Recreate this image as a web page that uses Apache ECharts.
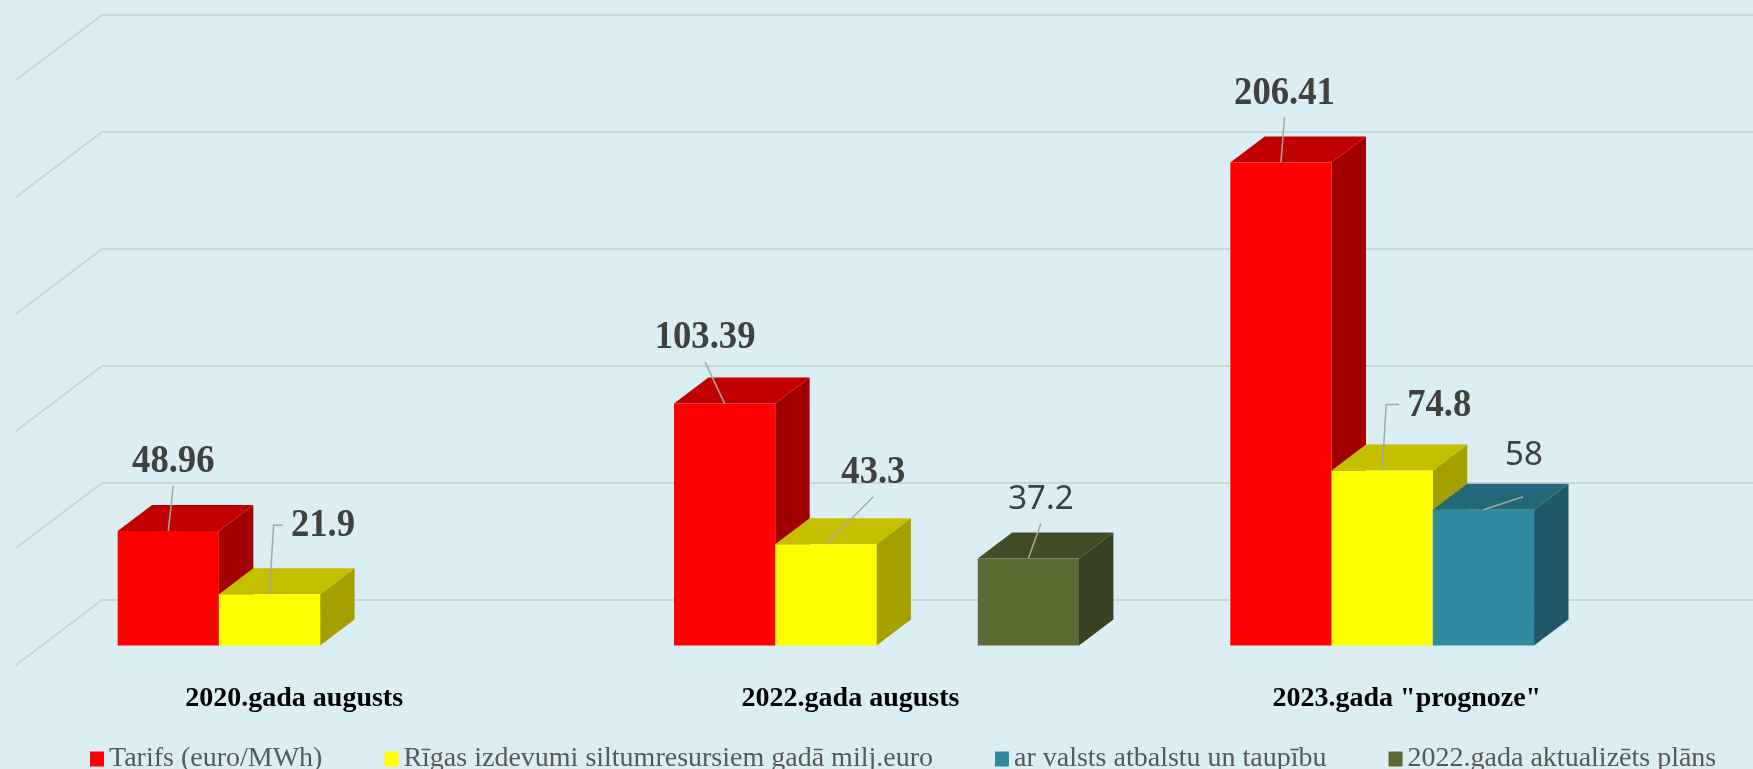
<!DOCTYPE html>
<html>
<head>
<meta charset="utf-8">
<title>Siltumenerģija</title>
<script src="https://cdn.jsdelivr.net/npm/echarts@6/dist/echarts.min.js"></script>
<style>
  html, body { margin: 0; padding: 0; background: #DAEEF3; }
  #chart { width: 1753px; height: 769px; }
</style>
</head>
<body>
<div id="chart"></div>
<script>
// chart data
var categories = ['2020.gada augusts', '2022.gada augusts', '2023.gada "prognoze"'];
var seriesNames = [
    'Tarifs (euro/MWh)',
    'Rīgas izdevumi siltumresursiem gadā milj.euro',
    'ar valsts atbalstu un taupību',
    '2022.gada aktualizēts plāns'
];
var tarifs = [48.96, 103.39, 206.41];
var izdevumi = [21.9, 43.3, 74.8];
var atbalsts = [null, null, 58];
var plans = [null, 37.2, null];
var yTicks = [0, 50, 100, 150, 200, 250];

// fake 3d layout (pixels)
var WALL = { left: 102, right: -18, top: 15, bottom: 169 };  // back wall
var DEPTH = [-86, 65];        // back wall -> front edge of the floor
var FRONT = [26, -19.5];      // front edge -> bar front face
var BAR_DEPTH = [34.4, -26];  // bar front face -> bar back face
var SLOT = 0.182;             // one bar slot as part of the category band

var faces = [
    { front: '#FF0000', top: '#C00000', side: '#A20000' },
    { front: '#FFFF00', top: '#C4C000', side: '#A3A000' },
    { front: '#318B9E', top: '#23687A', side: '#1F5868' },
    { front: '#5A6B34', top: '#424D28', side: '#374222' }
];

var labelFonts = [
    { family: 'Liberation Serif', weight: 'bold', size: 39, scaleX: 0.94 },
    { family: 'Liberation Serif', weight: 'bold', size: 39, scaleX: 0.94 },
    { family: 'Noto Sans', weight: 'normal', size: 33, scaleX: 1 },
    { family: 'Noto Sans', weight: 'normal', size: 33, scaleX: 1 }
];

// label centre offset from the bar's front top, leader kind, leader start
var labelPos = [
    [[5, -69.5, 'line'], [-19.5, -65.5, 'line'], [3.5, -69, 'line']],
    [[53.5, -68, 'elbow'], [47.5, -71.5, 'line'], [57, -65, 'elbow']],
    [null, null, [40.5, -54, 'line', [-1, 41]]],
    [null, [12.5, -59, 'line'], null]
];

var measureCtx = document.createElement('canvas').getContext('2d');

function textWidth(txt, f) {
    measureCtx.font = f.weight + ' ' + f.size + 'px "' + f.family + '"';
    return measureCtx.measureText(txt).width * f.scaleX;
}

function toData(values) {
    var out = [];
    for (var i = 0; i < values.length; i++) {
        if (values[i] != null) out.push([i, values[i]]);
    }
    return out;
}

function barRenderer(s) {
    return function (params, api) {
        var cat = api.value(0);
        var v = api.value(1);
        var base = api.coord([cat, 0]);
        var top = api.coord([cat, v]);
        var w = api.size([1, 0])[0] * SLOT;
        var x0 = base[0] - 2 * w + s * w + FRONT[0];
        var yb = base[1] + FRONT[1];
        var yt = top[1] + FRONT[1];
        var dx = BAR_DEPTH[0], dy = BAR_DEPTH[1];
        var c = faces[s];

        var children = [
            {
                type: 'polygon',
                shape: { points: [[x0 + w, yt], [x0 + w + dx, yt + dy], [x0 + w + dx, yb + dy], [x0 + w, yb]] },
                style: { fill: c.side }
            },
            {
                type: 'polygon',
                shape: { points: [[x0, yt], [x0 + w, yt], [x0 + w + dx, yt + dy], [x0 + dx, yt + dy]] },
                style: { fill: c.top }
            },
            {
                type: 'rect',
                shape: { x: x0, y: yt, width: w, height: yb - yt },
                style: { fill: c.front }
            }
        ];

        var lp = labelPos[s][cat];
        if (lp) {
            var f = labelFonts[s];
            var txt = String(v);
            var ax = x0 + w / 2, ay = yt;
            var cx = ax + lp[0], cy = ay + lp[1];
            var pts;
            if (lp[2] === 'elbow') {
                var sx = cx - textWidth(txt, f) / 2 - 8;
                pts = [[sx, cy - 1], [ax + 4, cy - 1], [ax, ay]];
            } else {
                var st = lp[3] || [0, 24];
                pts = [[cx + st[0], cy + st[1]], [ax, ay]];
            }
            children.push({
                type: 'polyline',
                shape: { points: pts },
                style: { stroke: '#A6A6A6', lineWidth: 1.5, fill: null }
            });
            children.push({
                type: 'text',
                x: cx,
                y: cy,
                scaleX: f.scaleX,
                style: {
                    text: txt,
                    x: 0,
                    y: 0,
                    align: 'center',
                    verticalAlign: 'middle',
                    fontFamily: f.family,
                    fontWeight: f.weight,
                    fontSize: f.size,
                    fill: '#404040'
                }
            });
        }
        return { type: 'group', children: children };
    };
}

function wallRenderer(params, api) {
    var p = api.coord([0, api.value(1)]);
    return {
        type: 'line',
        shape: { x1: p[0], y1: p[1], x2: p[0] + DEPTH[0], y2: p[1] + DEPTH[1] },
        style: { stroke: '#C9D5DE', lineWidth: 2 }
    };
}

var allValues = [tarifs, izdevumi, atbalsts, plans];
var series = [{
    type: 'custom',
    xAxisIndex: 0,
    yAxisIndex: 0,
    silent: true,
    renderItem: wallRenderer,
    data: yTicks.map(function (t) { return [0, t]; })
}];
for (var s = 0; s < allValues.length; s++) {
    series.push({
        name: seriesNames[s],
        type: 'custom',
        xAxisIndex: 1,
        yAxisIndex: 1,
        itemStyle: { color: faces[s].front },
        renderItem: barRenderer(s),
        data: toData(allValues[s])
    });
}

var chart = echarts.init(document.getElementById('chart'));
chart.setOption({
    animation: false,
    backgroundColor: '#DAEEF3',
    grid: [
        // back wall
        { left: WALL.left, right: WALL.right, top: WALL.top, bottom: WALL.bottom },
        // front edge of the floor
        {
            left: WALL.left + DEPTH[0],
            right: WALL.right - DEPTH[0],
            top: WALL.top + DEPTH[1],
            bottom: WALL.bottom - DEPTH[1]
        }
    ],
    legend: {
        data: seriesNames,
        left: 85,
        top: 740,
        itemGap: 62,
        itemWidth: 14,
        itemHeight: 15,
        icon: 'rect',
        textStyle: {
            fontFamily: 'Liberation Serif',
            fontSize: 28,
            color: '#595959'
        }
    },
    xAxis: [
        { gridIndex: 0, type: 'value', min: 0, max: 1, show: false },
        {
            gridIndex: 1,
            type: 'category',
            data: categories,
            axisLine: { show: false },
            axisTick: { show: false },
            axisLabel: {
                margin: 20,
                fontFamily: 'Liberation Serif',
                fontWeight: 'bold',
                fontSize: 28,
                color: '#000000'
            }
        }
    ],
    yAxis: [
        {
            gridIndex: 0,
            type: 'value',
            min: 0,
            max: 250,
            interval: 50,
            axisLine: { show: false },
            axisTick: { show: false },
            axisLabel: { show: false },
            splitLine: { lineStyle: { color: '#C9D5DE', width: 2 } }
        },
        { gridIndex: 1, type: 'value', min: 0, max: 250, show: false }
    ],
    series: series
});
</script>
</body>
</html>
